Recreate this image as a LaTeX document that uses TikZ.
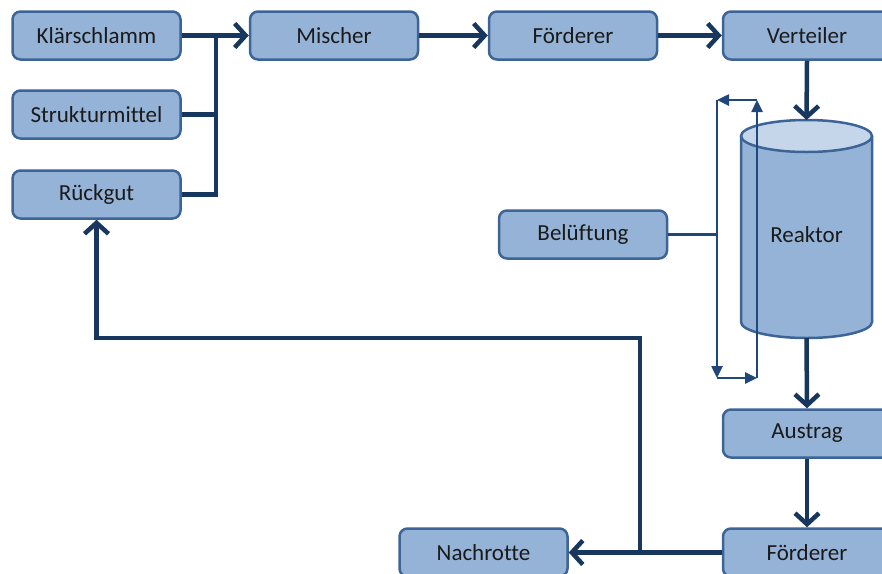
\documentclass[tikz,border=0pt]{standalone}
\usepackage{fontspec}
\setmainfont{Carlito}[Ligatures=NoCommon]
\usetikzlibrary{arrows.meta}
\definecolor{boxfill}{HTML}{95B3D7}
\definecolor{boxline}{HTML}{3D6496}
\definecolor{arrowc}{HTML}{17375E}
\definecolor{loopc}{HTML}{1F477A}
\definecolor{topfill}{HTML}{C5D6EB}
\definecolor{txt}{HTML}{1A1A1A}
\begin{document}
\begin{tikzpicture}[x=1pt,y=-1pt,
  box/.style={draw=boxline, fill=boxfill, line width=2.5pt, rounded corners=8pt,
    minimum width=168pt, minimum height=48pt, inner sep=0pt,
    font=\fontsize{23}{27}\selectfont, text=txt},
  flowline/.style={draw=arrowc, line width=4.5pt},
  flow/.style={flowline, -{Straight Barb[length=11pt,width=24pt,line width=4.5pt]}},
  airline/.style={draw=loopc, line width=2.5pt},
  air/.style={airline, -{Triangle[length=12pt,width=11pt]}}]
\useasboundingbox (0,0) rectangle (882,573);
\clip (0,0) rectangle (882,573);
% boxes
\node[box] (kl) at (96.5,35.5) {Klärschlamm};
\node[box] (st) at (96.5,114.5) {Strukturmittel};
\node[box] (rg) at (96.5,194.5) {Rückgut};
\node[box] (mi) at (334,35.5) {Mischer};
\node[box] (fo1) at (573,35.5) {Förderer};
\node[box] (ve) at (807,35.5) {Verteiler};
\node[box] (be) at (583,234.5) {Belüftung};
\node[box] (au) at (807,433.5) {Austrag};
\node[box] (fo2) at (807,552.5) {Förderer};
\node[box] (na) at (483.5,552.5) {Nachrotte};
% reactor cylinder
\draw[draw=boxline, fill=boxfill, line width=2.5pt] (741,136) -- (741,322)
  arc[start angle=180, end angle=0, x radius=65.5, y radius=16] -- (872,136);
\draw[draw=boxline, fill=topfill, line width=2.5pt] (806.5,136) ellipse [x radius=65.5, y radius=16];
\node[font=\fontsize{23}{27}\selectfont, text=txt] (re) at (806.5,235) {Reaktor};
\coordinate (retop) at (806.5,120);
\coordinate (rebot) at (806.5,338);
% junctions
\coordinate (j1) at (216,35.5);
\coordinate (j3) at (640,552.5);
\coordinate (c1) at (96.5,338);
% main flow
\draw[flow] (kl.east) -- (mi.west);
\draw[flowline] (st.east) -- (st.east -| j1);
\draw[flowline] (rg.east) -| (j1);
\draw[flow] (mi.east) -- (fo1.west);
\draw[flow] (fo1.east) -- (ve.west);
\draw[flow] (ve.south) -- (retop);
\draw[flow] (rebot) -- (au.north);
\draw[flow] (au.south) -- (fo2.north);
\draw[flow] (fo2.west) -- (na.east);
\draw[flow] (j3) -- (j3 |- c1) -- (c1) -- (rg.south);
% aeration loop
\coordinate (a1) at (717,100);
\coordinate (a2) at (757,100);
\coordinate (a3) at (717,378);
\coordinate (a4) at (757,378);
\draw[airline] (be.east) -- (be.east -| a1);
\draw[air] (a2) -- (a1);
\draw[air] (a1) -- (a3);
\draw[air] (a3) -- (a4);
\draw[air] (a4) -- (a2);
\end{tikzpicture}
\end{document}
